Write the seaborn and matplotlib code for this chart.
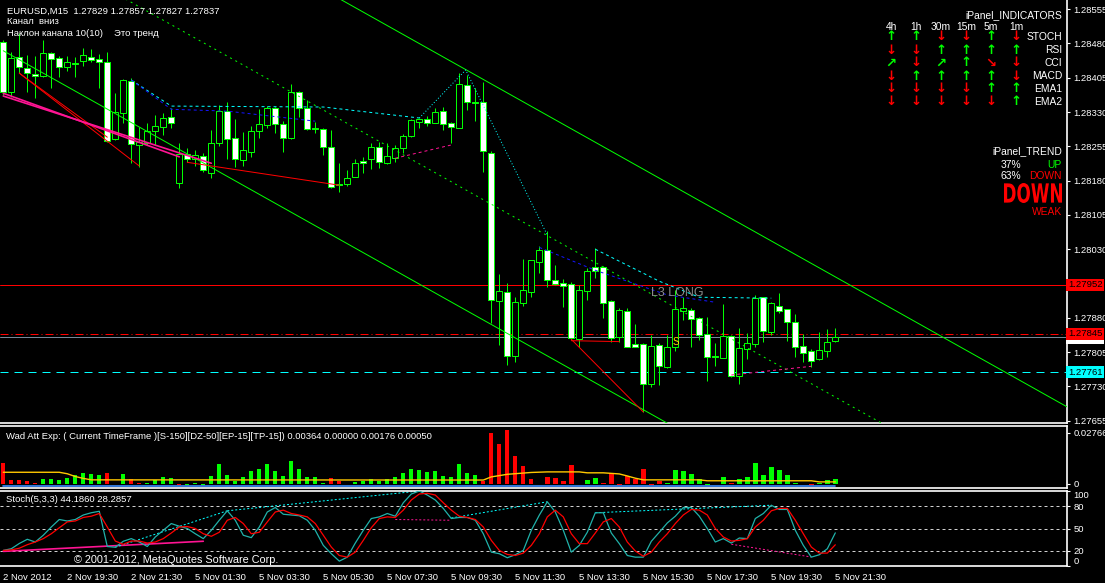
import numpy as np
import matplotlib
matplotlib.use("Agg")
import matplotlib.pyplot as plt
import matplotlib.transforms as mtransforms
from matplotlib.textpath import TextPath
from matplotlib.patches import PathPatch
from matplotlib.font_manager import FontProperties
import seaborn as sns

W, H = 1105, 583

# ---------------- EURUSD M15 candles ----------------
opens = [1.28483, 1.28373, 1.28450, 1.28426, 1.28413, 1.28408, 1.28459, 1.28448, 1.28428, 1.28437,
         1.28441, 1.28450, 1.28446, 1.28439, 1.28271, 1.28328, 1.28398, 1.28258, 1.28262, 1.28288,
         1.28297, 1.28319, 1.28174, 1.28238, 1.28227, 1.28234, 1.28196, 1.28262, 1.28332, 1.28273,
         1.28225, 1.28242, 1.28288, 1.28301, 1.28338, 1.28303, 1.28273, 1.28373, 1.28338, 1.28295,
         1.28293, 1.28253, 1.28172, 1.28172, 1.28188, 1.28223, 1.28227, 1.28253, 1.28218, 1.28229,
         1.28251, 1.28277, 1.28308, 1.28314, 1.28306, 1.28332, 1.28306, 1.28295, 1.28389, 1.28352,
         1.28352, 1.28240, 1.27916, 1.27936, 1.27796, 1.27912, 1.27936, 1.28002, 1.28028, 1.27962,
         1.27956, 1.27954, 1.27833, 1.27938, 1.27991, 1.27991, 1.27916, 1.27838, 1.27895, 1.27822,
         1.27822, 1.27735, 1.27820, 1.27772, 1.27816, 1.27895, 1.27897, 1.27879, 1.27844, 1.27796,
         1.27792, 1.27840, 1.27752, 1.27811, 1.27822, 1.27925, 1.27849, 1.27905, 1.27899, 1.27871,
         1.27818, 1.27807, 1.27790, 1.27807, 1.27829]
highs = [1.28487, 1.28461, 1.28503, 1.28454, 1.28452, 1.28487, 1.28461, 1.28452, 1.28452, 1.28450,
         1.28470, 1.28468, 1.28457, 1.28461, 1.28371, 1.28402, 1.28404, 1.28297, 1.28306, 1.28323,
         1.28328, 1.28338, 1.28262, 1.28251, 1.28247, 1.28240, 1.28290, 1.28345, 1.28352, 1.28314,
         1.28286, 1.28299, 1.28336, 1.28343, 1.28341, 1.28310, 1.28391, 1.28376, 1.28356, 1.28308,
         1.28295, 1.28290, 1.28218, 1.28203, 1.28227, 1.28231, 1.28262, 1.28264, 1.28262, 1.28258,
         1.28282, 1.28314, 1.28317, 1.28321, 1.28338, 1.28341, 1.28308, 1.28415, 1.28411, 1.28382,
         1.28395, 1.28244, 1.27975, 1.27956, 1.27925, 1.28008, 1.28006, 1.28037, 1.28069, 1.27995,
         1.27965, 1.27958, 1.27951, 1.27989, 1.28032, 1.27993, 1.27919, 1.27901, 1.27901, 1.27866,
         1.27825, 1.27842, 1.27825, 1.27842, 1.27940, 1.27925, 1.27901, 1.27881, 1.27881, 1.27825,
         1.27910, 1.27842, 1.27857, 1.27846, 1.27930, 1.27925, 1.27914, 1.27934, 1.27899, 1.27888,
         1.27844, 1.27811, 1.27849, 1.27855, 1.27857]
lows = [1.28367, 1.28363, 1.28415, 1.28373, 1.28360, 1.28406, 1.28382, 1.28406, 1.28419, 1.28406,
        1.28430, 1.28439, 1.28382, 1.28264, 1.28268, 1.28306, 1.28218, 1.28209, 1.28258, 1.28258,
        1.28279, 1.28295, 1.28164, 1.28220, 1.28212, 1.28199, 1.28185, 1.28255, 1.28227, 1.28209,
        1.28212, 1.28231, 1.28273, 1.28295, 1.28284, 1.28242, 1.28271, 1.28319, 1.28290, 1.28284,
        1.28236, 1.28164, 1.28155, 1.28168, 1.28188, 1.28196, 1.28205, 1.28207, 1.28216, 1.28220,
        1.28240, 1.28275, 1.28295, 1.28299, 1.28306, 1.28290, 1.28262, 1.28295, 1.28334, 1.28310,
        1.28199, 1.27868, 1.27820, 1.27776, 1.27783, 1.27905, 1.27925, 1.27978, 1.27947, 1.27951,
        1.27903, 1.27831, 1.27816, 1.27919, 1.27967, 1.27879, 1.27827, 1.27827, 1.27816, 1.27816,
        1.27674, 1.27728, 1.27733, 1.27770, 1.27807, 1.27875, 1.27816, 1.27831, 1.27741, 1.27774,
        1.27792, 1.27750, 1.27735, 1.27790, 1.27816, 1.27827, 1.27842, 1.27890, 1.27829, 1.27794,
        1.27783, 1.27772, 1.27787, 1.27794, 1.27827]
closes = [1.28373, 1.28448, 1.28428, 1.28415, 1.28408, 1.28459, 1.28446, 1.28428, 1.28439, 1.28435,
          1.28454, 1.28443, 1.28439, 1.28266, 1.28330, 1.28400, 1.28260, 1.28264, 1.28288, 1.28299,
          1.28317, 1.28306, 1.28238, 1.28227, 1.28236, 1.28203, 1.28262, 1.28332, 1.28271, 1.28227,
          1.28247, 1.28288, 1.28303, 1.28338, 1.28303, 1.28273, 1.28373, 1.28338, 1.28293, 1.28293,
          1.28253, 1.28166, 1.28170, 1.28185, 1.28218, 1.28218, 1.28253, 1.28220, 1.28234, 1.28251,
          1.28277, 1.28312, 1.28314, 1.28306, 1.28330, 1.28303, 1.28297, 1.28391, 1.28352, 1.28349,
          1.28244, 1.27919, 1.27938, 1.27796, 1.27914, 1.27940, 1.28006, 1.28028, 1.27962, 1.27954,
          1.27949, 1.27835, 1.27940, 1.27982, 1.27982, 1.27912, 1.27835, 1.27897, 1.27816, 1.27816,
          1.27735, 1.27818, 1.27774, 1.27816, 1.27899, 1.27901, 1.27877, 1.27842, 1.27794, 1.27794,
          1.27840, 1.27752, 1.27814, 1.27825, 1.27923, 1.27851, 1.27912, 1.27895, 1.27871, 1.27816,
          1.27803, 1.27785, 1.27809, 1.27827, 1.27837]

time_labels = ["2 Nov 2012", "2 Nov 19:30", "2 Nov 21:30", "5 Nov 01:30", "5 Nov 03:30",
               "5 Nov 05:30", "5 Nov 07:30", "5 Nov 09:30", "5 Nov 11:30", "5 Nov 13:30",
               "5 Nov 15:30", "5 Nov 17:30", "5 Nov 19:30", "5 Nov 21:30"]
price_ticks = [1.28555, 1.28480, 1.28405, 1.28330, 1.28255, 1.28180, 1.28105, 1.28030,
               1.27880, 1.27805, 1.27730, 1.27655]

# channel (bar, price) end points
chan_bars = [0, 133]
chan_upper = [1.28990, 1.27685]
chan_mid = [1.28727, 1.27422]
chan_lower = [1.28464, 1.27159]

# trend / zigzag lines: (bars, prices)
red_lines = [([2, 17], [1.28415, 1.28212]), ([2, 13], [1.28415, 1.28275]),
             ([23, 42], [1.28220, 1.28170]), ([71, 80], [1.27833, 1.27674]),
             ([71, 77], [1.27830, 1.27828])]
pink_lines = [([0, 26], [1.28365, 1.28218]), ([0, 22], [1.28371, 1.28232])]
pink_dashed = [([49, 56], [1.28229, 1.28258]), ([91, 101], [1.27755, 1.27774])]
cyan_dashed = [([16, 21, 40, 52], [1.28400, 1.28343, 1.28341, 1.28317]),
               ([74, 82, 87, 96], [1.28030, 1.27960, 1.27925, 1.27923])]
cyan_dotted = [([52, 57.8, 68], [1.28317, 1.28422, 1.28061])]
blue_dashed = [([16, 21, 28, 39], [1.28400, 1.28336, 1.28332, 1.28310]),
               ([67, 74, 83, 89], [1.28034, 1.27984, 1.27930, 1.27914])]

level_red = 1.27952
level_ask = 1.27845
level_bid = 1.27837
level_cyan = 1.27761

# ---------------- Wad Att Exp histogram ----------------
wad_vals = [0.0115, 0.0022, 0.0022, 0.0016, 0.0004, 0.0025, 0.0027, 0.0022, 0.0034, 0.0049,
            0.0061, 0.0054, 0.0049, 0.0061, -0.0003, 0.0054, 0.0027, 0.0007, 0.0004, 0.0022,
            0.0038, 0.0032, -0.0004, -0.0004, 0.0007, -0.0004, 0.0043, 0.0106, 0.0050, 0.0018,
            0.0039, 0.0070, 0.0081, 0.0110, 0.0070, 0.0045, 0.0124, 0.0081, 0.0039, 0.0039,
            0.0004, 0.0034, 0.0016, 0.0, 0.0011, 0.0016, 0.0025, 0.0016, 0.0027, 0.0039,
            0.0059, 0.0081, 0.0076, 0.0063, 0.0070, 0.0043, 0.0036, 0.0106, 0.0061, 0.0049,
            0.0016, 0.0274, 0.0214, 0.0292, 0.0153, 0.0099, 0.0027, 0.0, 0.0039, 0.0034,
            0.0016, 0.0103, 0.0, 0.0022, 0.0034, 0.0005, 0.0058, -0.0004, 0.0043, 0.0025,
            0.0081, -0.0004, 0.0016, 0.0007, 0.0076, 0.0070, 0.0054, 0.0027, -0.0004, 0.0,
            0.0039, 0.0004, 0.0027, 0.0039, 0.0115, 0.0049, 0.0092, 0.0076, 0.0049, 0.0007,
            0.0, -0.0004, 0.0007, 0.0022, 0.0027]
wad_dir = ("rrrrrggggg" "gggrrgrrgg" "ggrggggggg" "gggggggggg" "grrggggggg"
           "gggggggggg" "rrrrrrrrrr" "rrrggrrrrr" "rrrggggggg" "grgggggggg" "grggg")
explo_bars = [0, 7, 8, 9, 10, 11, 60, 61, 63, 66, 68, 72, 73, 75, 77, 78, 79, 80, 87, 88, 101, 102, 104]
explo_vals = [0.0063, 0.0063, 0.0055, 0.0040, 0.0030, 0.0022, 0.0021, 0.0038, 0.0052, 0.0062,
              0.0065, 0.0065, 0.0060, 0.0060, 0.0054, 0.0043, 0.0031, 0.0022, 0.0022, 0.0017,
              0.0017, 0.0011, 0.0011]

# ---------------- Stochastic (5,3,3) ----------------
stoch_main = [20.8, 23, 30, 35.6, 32, 41, 52, 62, 60, 62,
              68, 71, 73, 26, 25, 33, 36.5, 32, 26, 38.7,
              47.6, 56.6, 53, 50, 43, 36.5, 47.6, 61, 73.6, 61,
              41, 37.8, 52, 72, 78, 69, 68, 67, 61, 47.6,
              27.5, 16.4, 6.5, 11.8, 30.6, 47.6, 63.3, 65.5, 70, 66.4,
              84.3, 96, 100, 94.6, 88, 76.8, 63.3, 64.7, 64.7, 61,
              43, 18.5, 16.4, 11, 15, 20.8, 47.6, 67.8, 85.6, 72,
              47.6, 18.5, 27.5, 45, 71, 71, 44, 29.8, 14, 11.8,
              11.8, 32.9, 45, 57.4, 66.4, 78, 78, 66.4, 50, 32,
              36.5, 30.6, 37.3, 36.5, 63.3, 70, 81, 75.4, 75.4, 47.6,
              27.5, 11.8, 15, 23, 44.19]
stoch_signal = [20.8, 21.5, 23.7, 28.4, 32, 36.5, 43, 51, 58.8, 60,
                64.7, 66.4, 70, 52, 33.3, 28.9, 33.3, 33.3, 30.6, 32,
                36.5, 44, 52, 52.6, 50, 43, 39.6, 45, 61, 64.7,
                56.6, 43, 45, 58.8, 72, 74.5, 70, 68, 65.5, 56.6,
                41, 25.3, 14, 11.8, 18.5, 34.2, 51, 63.3, 65.5, 64.7,
                74.5, 88, 96, 97, 94.6, 84.3, 74.5, 66.4, 64.7, 62,
                52, 34.2, 20.8, 15.4, 14, 17.2, 27.5, 43, 65.5, 74.5,
                65.5, 43, 29.8, 29.8, 44, 58.8, 63.3, 52, 32, 20,
                13, 18.5, 32, 43, 56.6, 68, 75.4, 74.5, 68, 50,
                38.7, 33.3, 34.2, 36.5, 52, 61, 73.6, 76.8, 76.8, 61,
                43, 25.3, 17.2, 17.2, 28.29]
stoch_cyan_dashed = [([14, 28], [25, 73.6]), ([28, 52], [73.6, 100]),
                     ([56, 68], [64, 85.6]), ([74, 96], [71, 81])]
stoch_pink_dashed = [([49, 56], [62, 61]), ([91, 101], [29, 12])]
stoch_pink_solid = [([0, 25], [19.5, 33])]

# ---------------- iPanel ----------------
panel_tf = ["4h", "1h", "30m", "15m", "5m", "1m"]
panel_rows = ["STOCH", "RSI", "CCI", "MACD", "EMA1", "EMA2"]
panel_sig = [["u", "u", "d", "d", "u", "d"],
             ["d", "d", "u", "u", "u", "u"],
             ["ur", "d", "ur", "u", "dr", "d"],
             ["d", "u", "u", "u", "u", "d"],
             ["d", "d", "d", "d", "u", "u"],
             ["d", "d", "d", "d", "d", "u"]]

LIME = "#00ff00"
RED = "#ff0000"
PINK = "#ff1493"
CYAN = "#00ffff"
BLUE = "#1414ff"
PX = 0.72  # one pixel in points
FS = 6.8   # terminal font size

sns.set_style("dark", {"axes.facecolor": "black", "figure.facecolor": "black",
                       "axes.grid": False})
plt.rcParams["font.family"] = ["Liberation Sans", "DejaVu Sans"]

fig = plt.figure(figsize=(W / 100, H / 100), dpi=100, facecolor="black")


def box(x0, y0, x1, y1):
    return [x0 / W, 1 - y1 / H, (x1 - x0) / W, (y1 - y0) / H]


def ftext(x, y, s, **kw):
    kw.setdefault("color", "white")
    kw.setdefault("fontsize", FS)
    kw.setdefault("va", "center")
    fig.text(x / W, 1 - y / H, s, **kw)


ax = fig.add_axes(box(0, 0, 1067, 423))
ax_w = fig.add_axes(box(0, 426, 1067, 488))
ax_s = fig.add_axes(box(0, 491, 1067, 566))

XLIM = (-0.41, 132.96)
for a in (ax, ax_w, ax_s):
    a.set_facecolor("black")
    a.set_xlim(*XLIM)
    for side in ("left", "top"):
        a.spines[side].set_visible(False)
    for side in ("right", "bottom", "top"):
        a.spines[side].set_color("white")
        a.spines[side].set_linewidth(1.2)
    a.yaxis.tick_right()
    a.tick_params(axis="y", colors="white", labelcolor="white", labelsize=FS,
                  length=2.5, width=0.8, pad=2)
    a.tick_params(axis="x", length=0)
    a.set_xticklabels([])
ax_w.spines["top"].set_visible(True)
ax_s.spines["top"].set_visible(True)

# ---------------- main chart ----------------
bars = np.arange(len(opens))
o = np.array(opens); h = np.array(highs); l = np.array(lows); c = np.array(closes)
up = c >= o
ax.set_ylim(1.27650, 1.28575)
ax.set_yticks(price_ticks)
ax.set_yticklabels([f"{p:.5f}" for p in price_ticks])

# levels
ax.axhline(level_red, color=RED, lw=PX, zorder=1)
ax.axhline(level_ask, color=RED, lw=PX, ls=(0, (8, 3, 1, 3)), zorder=1)
ax.axhline(level_bid, color="#778899", lw=PX, zorder=1)
ax.axhline(level_cyan, color=CYAN, lw=PX, ls=(0, (8, 6)), zorder=1)

# channel
ax.plot(chan_bars, chan_upper, color=LIME, lw=PX, zorder=4)
ax.plot(chan_bars, chan_lower, color=LIME, lw=PX, zorder=4)
ax.plot(chan_bars, chan_mid, color=LIME, lw=PX, ls=(0, (2, 4)), zorder=4)

# candles
ax.vlines(bars, l, h, color=LIME, lw=PX, zorder=2)
body_lo = np.minimum(o, c)
body_h = np.maximum(np.abs(c - o), 0.00002)
ax.bar(bars, body_h, bottom=body_lo, width=0.72,
       color=np.where(up, "black", "white"), edgecolor=LIME, linewidth=PX, zorder=3)

for xs, ys in red_lines:
    ax.plot(xs, ys, color=RED, lw=PX, zorder=5)
for xs, ys in pink_lines:
    ax.plot(xs, ys, color=PINK, lw=1.2, zorder=5)
for xs, ys in pink_dashed:
    ax.plot(xs, ys, color=PINK, lw=PX, ls=(0, (3, 3)), zorder=5)
for xs, ys in cyan_dashed:
    ax.plot(xs, ys, color=CYAN, lw=PX, ls=(0, (3, 3)), zorder=5)
for xs, ys in cyan_dotted:
    ax.plot(xs, ys, color=CYAN, lw=PX, ls=(0, (1, 2)), zorder=5)
for xs, ys in blue_dashed:
    ax.plot(xs, ys, color=BLUE, lw=PX, ls=(0, (3, 3)), zorder=5)

ax.text(80.9, 1.27934, "L3 LONG", color="#8a8a8a", fontsize=9, va="center", zorder=6)
ax.text(83.6, 1.27828, "S", color="#ffe000", fontsize=7, va="center", zorder=6)

# price boxes on the axis
trans = mtransforms.blended_transform_factory(ax.transAxes, ax.transData)
for price, fc in [(level_red, RED), (level_bid, "white"), (level_ask, RED), (level_cyan, CYAN)]:
    ax.text(1.001, price, f"{price:.5f}", transform=trans, fontsize=FS, color="black",
            va="center", ha="left", clip_on=False, zorder=10,
            bbox=dict(fc=fc, ec="none", pad=1.2))

# ---------------- Wad panel ----------------
ax_w.set_ylim(-0.0022, 0.0313)
ax_w.bar(bars, wad_vals, width=0.55, linewidth=0,
         color=[LIME if d == "g" else RED for d in wad_dir], zorder=2)
ax_w.plot([bars[0], bars[-1]], [-0.0009, -0.0009], color="#3c8cff", lw=1.2, zorder=1)
sns.lineplot(x=explo_bars, y=explo_vals, ax=ax_w, color="#ffc800", lw=1.0, zorder=3)
ax_w.set_yticks([0.02766, 0])
ax_w.set_yticklabels(["0.02766", "0"])
ax_w.set_xlabel(""); ax_w.set_ylabel("")
ax_w.set_xticklabels([])
ax_w.text(0.006, 0.83, "Wad Att Exp: ( Current TimeFrame )[S-150][DZ-50][EP-15][TP-15]) "
          "0.00364 0.00000 0.00176 0.00050", transform=ax_w.transAxes,
          color="white", fontsize=FS, va="center")

# ---------------- Stochastic panel ----------------
ax_s.set_ylim(0, 100)
for lv in (80, 50, 20):
    ax_s.axhline(lv, color="#d0d0d0", lw=PX, ls=(0, (3, 3)), zorder=1)
for xs, ys in stoch_pink_solid:
    ax_s.plot(xs, ys, color=PINK, lw=1.2, zorder=2)
for xs, ys in stoch_cyan_dashed:
    ax_s.plot(xs, ys, color=CYAN, lw=PX, ls=(0, (2, 2)), zorder=2)
for xs, ys in stoch_pink_dashed:
    ax_s.plot(xs, ys, color=PINK, lw=PX, ls=(0, (2, 2)), zorder=2)
sns.lineplot(x=bars, y=stoch_main, ax=ax_s, color="#20b2aa", lw=0.9, zorder=3)
sns.lineplot(x=bars, y=stoch_signal, ax=ax_s, color=RED, lw=0.9, zorder=4)
ax_s.set_xlabel(""); ax_s.set_ylabel("")
ax_s.set_yticks([100, 80, 50, 20, 0])
ax_s.set_yticklabels(["100", "80", "50", "20", "0"])
ytl = ax_s.get_yticklabels()
ytl[0].set_va("top")
ytl[-1].set_va("bottom")
ax_s.set_xticks(bars[::8])
ax_s.set_xticklabels(time_labels, ha="left", fontsize=FS, color="white")
ax_s.tick_params(axis="x", length=3, width=0.8, colors="white", pad=2, direction="out")
ax_s.text(0.006, 0.88, "Stoch(5,3,3) 44.1860 28.2857", transform=ax_s.transAxes,
          color="white", fontsize=FS, va="center")
ax_s.text(8.9, 8.5, "\u00a9 2001-2012, MetaQuotes Software Corp.", color="white",
          fontsize=7.8, va="center")

# ---------------- header texts ----------------
ftext(7, 11, "EURUSD,M15  1.27829 1.27857 1.27827 1.27837")
ftext(7, 21, "Канал  вниз")
ftext(7, 33, "Наклон канала 10(10)")
ftext(114, 33, "Это тренд")

# ---------------- iPanel ----------------
tf_x = [891, 916, 941, 966, 991, 1016]
row_y = [37, 50, 63, 76, 89, 102]
glyph = {"u": ("\u2191", LIME), "d": ("\u2193", RED), "ur": ("\u2197", LIME), "dr": ("\u2198", RED)}
ftext(1062, 15, "iPanel_INDICATORS", ha="right", fontsize=7.4)
for x, tf in zip(tf_x, panel_tf):
    ftext(x, 27, tf, ha="center", fontsize=7.4)
for y, name, sig in zip(row_y, panel_rows, panel_sig):
    ftext(1062, y, name, ha="right", fontsize=7.4)
    for x, s in zip(tf_x, sig):
        g, col = glyph[s]
        ftext(x, y, g, ha="center", color=col, fontsize=9.5, fontweight="bold",
              family="DejaVu Sans")
ftext(1062, 151, "iPanel_TREND", ha="right", fontsize=7.4)
ftext(1021, 165, "37%", ha="right", fontsize=7.4)
ftext(1062, 165, "UP", ha="right", fontsize=7.4, color=LIME)
ftext(1021, 176, "63%", ha="right", fontsize=7.4)
ftext(1062, 176, "DOWN", ha="right", fontsize=7.4, color=RED)
ftext(1062, 212, "WEAK", ha="right", fontsize=7.4, color=RED)

# big condensed "DOWN" (squeezed outline of a bold font)
tp = TextPath((0, 0), "DOWN", size=20, prop=FontProperties(family="DejaVu Sans", weight="bold"))
bb = tp.get_extents()
squeeze = mtransforms.Affine2D().translate(-bb.x0, -bb.y0).scale(58 / bb.width, 20 / bb.height)
squeeze = squeeze.translate(1004, H - 203)
fig.add_artist(PathPatch(tp, transform=squeeze, fc=RED, ec="none"))

fig.savefig("out.png", dpi=100, facecolor="black")
